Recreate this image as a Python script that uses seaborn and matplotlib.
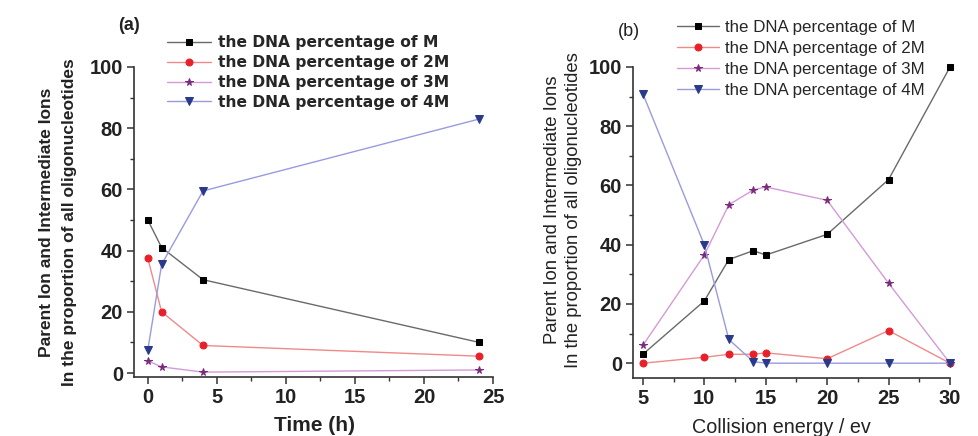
import matplotlib
matplotlib.use("Agg")
import matplotlib.pyplot as plt
import seaborn as sns
import pandas as pd
from matplotlib.ticker import MultipleLocator

sns.set_theme(style="ticks")
plt.rcParams['font.family'] = ['Liberation Sans', 'DejaVu Sans']

series_labels = ["the DNA percentage of M", "the DNA percentage of 2M",
                 "the DNA percentage of 3M", "the DNA percentage of 4M"]

time_h = [0, 1, 4, 24]
a_M = [50, 41, 30.5, 10]
a_2M = [37.5, 20, 9, 5.5]
a_3M = [4, 2, 0.3, 1]
a_4M = [7.5, 35.5, 59.5, 83]

energy = [5, 10, 12, 14, 15, 20, 25, 30]
b_M = [3, 21, 35, 38, 36.5, 43.5, 62, 100]
b_2M = [0, 2, 3, 3, 3.5, 1.5, 11, 0]
b_3M = [6, 36.5, 53.5, 58.5, 59.5, 55, 27, 0]
b_4M = [91, 40, 8, 0.5, 0, 0, 0, 0]

line_colors = ["#6a6a6a", "#f08a8a", "#d49ad8", "#9a9ae0"]
marker_colors = ["#000000", "#e8202a", "#7a2a7a", "#2a3a8a"]
markers = ["s", "o", "*", "v"]
msizes = [4.5, 5, 5.5, 6]
TXT = '#222222'

fig = plt.figure(figsize=(9.79, 4.36), dpi=100)
ax_a = fig.add_axes([134/979, 1-377/436, (493-134)/979, (377-67)/436])
ax_b = fig.add_axes([633/979, 1-378/436, (950-633)/979, (378-67)/436])

def draw(ax, x, ys):
    for y, lc, mc, mk, ms, lab in zip(ys, line_colors, marker_colors, markers, msizes, series_labels):
        df = pd.DataFrame({"x": x, "y": y})
        sns.lineplot(data=df, x="x", y="y", ax=ax, color=lc, linewidth=1.0,
                     marker=mk, markersize=ms, markerfacecolor=mc,
                     markeredgecolor=mc, label=lab, legend=False, clip_on=False)

draw(ax_a, time_h, [a_M, a_2M, a_3M, a_4M])
draw(ax_b, energy, [b_M, b_2M, b_3M, b_4M])

ax_a.set_xlim(-1, 25)
ax_a.set_ylim(-1.3, 100)
ax_b.set_xlim(4.2, 30)
ax_b.set_ylim(-5, 100)

for ax in (ax_a, ax_b):
    sns.despine(ax=ax)
    for s in ('left', 'bottom'):
        ax.spines[s].set_color('#333333')
        ax.spines[s].set_linewidth(1.2)
    ax.yaxis.set_major_locator(MultipleLocator(20))
    ax.yaxis.set_minor_locator(MultipleLocator(10))
    ax.xaxis.set_major_locator(MultipleLocator(5))
    ax.xaxis.set_minor_locator(MultipleLocator(2.5))
    ax.tick_params(which='major', direction='out', length=5, width=1.1,
                   labelsize=14.5, color='#333333', labelcolor=TXT, pad=3)
    ax.tick_params(which='minor', direction='out', length=3, width=1.0, color='#333333')
    for lbl in ax.get_xticklabels() + ax.get_yticklabels():
        lbl.set_fontweight('bold')
    ax.set_xlabel("")
    ax.set_ylabel("")
    ax.set_facecolor('white')

ylab = "Parent Ion and Intermediate Ions\nIn the proportion of all oligonucleotides"
fig.text(58/979, 1-222/436, ylab, rotation=90, ha='center', va='center',
         multialignment='center', fontsize=12.5, fontweight='bold', color=TXT, linespacing=1.6)
fig.text(563/979, 1-210/436, ylab, rotation=90, ha='center', va='center',
         multialignment='center', fontsize=13.3, color=TXT, linespacing=1.3)

fig.text(314/979, 1-425/436, "Time (h)", ha='center', va='center',
         fontsize=15, fontweight='bold', color=TXT)
fig.text(781/979, 1-427/436, "Collision energy / ev", ha='center', va='center',
         fontsize=14.2, color=TXT)

fig.text(118/979, 1-26/436, "(a)", fontsize=13, color=TXT, va='center', fontweight='bold')
fig.text(618/979, 1-32/436, "(b)", fontsize=13, color=TXT, va='center')

h, l = ax_a.get_legend_handles_labels()
ax_a.legend(h, l, loc='upper left', bbox_to_anchor=(167/979, 1-35/436),
            bbox_transform=fig.transFigure, frameon=False,
            handlelength=2.85, handletextpad=0.45, labelspacing=0.32, borderpad=0,
            borderaxespad=0,
            prop={'family': 'DejaVu Sans', 'weight': 'bold', 'size': 11.2})
h, l = ax_b.get_legend_handles_labels()
ax_b.legend(h, l, loc='upper left', bbox_to_anchor=(677/979, 1-20/436),
            bbox_transform=fig.transFigure, frameon=False,
            handlelength=2.45, handletextpad=0.37, labelspacing=0.36, borderpad=0,
            borderaxespad=0,
            prop={'size': 12.2})

fig.savefig("out.png", dpi=100, facecolor='white')
